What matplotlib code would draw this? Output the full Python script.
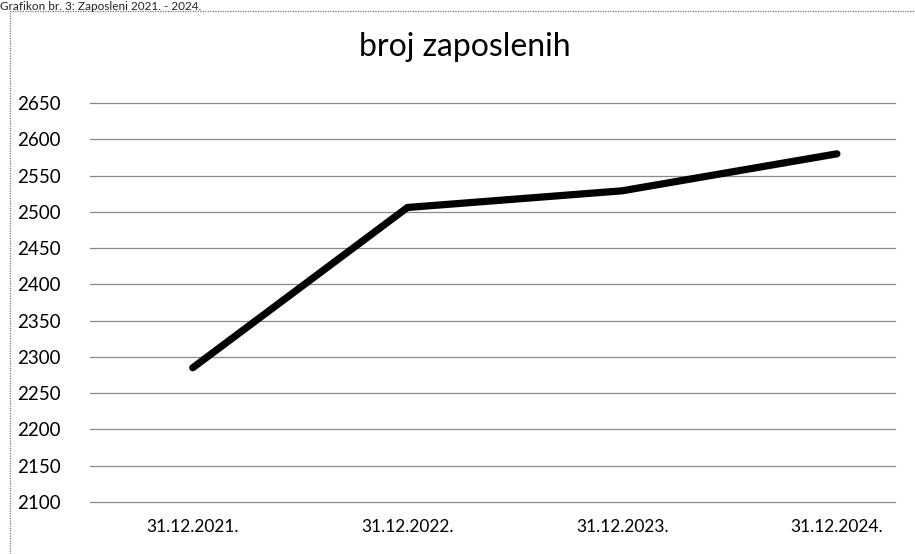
import matplotlib
matplotlib.use("Agg")
import matplotlib.pyplot as plt
from matplotlib.patches import Rectangle

# data
dates = ["31.12.2021.", "31.12.2022.", "31.12.2023.", "31.12.2024."]
employees = [2285, 2506, 2529, 2580]
yticks = list(range(2100, 2651, 50))

plt.rcParams["font.family"] = ["Lato", "DejaVu Sans"]

fig = plt.figure(figsize=(9.15, 5.54), dpi=100)
ax = fig.add_axes([0.098, 0.094, 0.88, 0.72])

x = list(range(len(dates)))
ax.plot(x, employees, color="black", lw=5.2, solid_capstyle="round", zorder=3)

ax.set_ylim(2100, 2650)
ax.set_yticks(yticks)
ax.set_xlim(-0.48, 3.27)
ax.set_xticks(x)
ax.set_xticklabels(dates, fontsize=12.5)
ax.tick_params(axis="y", labelsize=13.5, length=0, pad=21)
ax.tick_params(axis="x", length=0, pad=12)
ax.grid(axis="y", color="#8a8a8a", lw=0.9)
for gl in ax.get_ygridlines():
    gl.set_clip_on(False)
for s in ax.spines.values():
    s.set_visible(False)

fig.text(0.508, 0.915, "broj zaposlenih", ha="center", va="center", fontsize=23)
# caption above the chart frame
fig.text(0.0, 0.999, "Grafikon br. 3: Zaposleni 2021. - 2024.", ha="left", va="top",
         fontsize=8.5, color="#222222")
fig.patches.append(Rectangle((0.011, -0.01), 1.0, 0.99, transform=fig.transFigure,
                             fill=False, ec="#777777", lw=0.9, ls=(0, (1, 1))))

fig.savefig("out.png", dpi=100)
